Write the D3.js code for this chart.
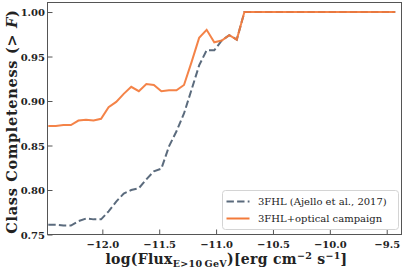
<!DOCTYPE html>
<html>
<head>
<meta charset="utf-8">
<script src="https://cdn.jsdelivr.net/npm/d3@7"></script>
<style>
  body { margin: 0; background: #fff; }
  svg text { font-family: "DejaVu Serif", "Liberation Serif", serif; }
</style>
</head>
<body>
<svg id="chart" width="407" height="271"></svg>
<script>
// log flux bin centres
var logFlux = [-12.475, -12.409, -12.342, -12.276, -12.210, -12.143, -12.077, -12.011, -11.945, -11.878,
               -11.812, -11.746, -11.679, -11.613, -11.547, -11.481, -11.414, -11.348, -11.282, -11.215,
               -11.149, -11.083, -11.016, -10.950, -10.884, -10.818, -10.751, -10.685, -10.619, -10.552,
               -10.486, -10.420, -10.354, -10.287, -10.221, -10.155, -10.088, -10.022, -9.956, -9.890,
               -9.823, -9.757, -9.691, -9.624, -9.558, -9.492, -9.425];

// 3FHL (Ajello et al., 2017)
var fhlValues = [0.761, 0.761, 0.760, 0.760, 0.765, 0.768, 0.767, 0.767, 0.776, 0.787,
                 0.796, 0.800, 0.802, 0.812, 0.821, 0.824, 0.849, 0.866, 0.886, 0.913,
                 0.940, 0.957, 0.957, 0.968, 0.974, 0.969, 1.000, 1.000, 1.000, 1.000,
                 1.000, 1.000, 1.000, 1.000, 1.000, 1.000, 1.000, 1.000, 1.000, 1.000,
                 1.000, 1.000, 1.000, 1.000, 1.000, 1.000, 1.000];

// 3FHL + optical campaign
var opticalValues = [0.872, 0.872, 0.873, 0.873, 0.878, 0.879, 0.878, 0.880, 0.893, 0.899,
                     0.908, 0.916, 0.911, 0.919, 0.918, 0.911, 0.912, 0.912, 0.918, 0.944,
                     0.971, 0.980, 0.966, 0.968, 0.974, 0.969, 1.000, 1.000, 1.000, 1.000,
                     1.000, 1.000, 1.000, 1.000, 1.000, 1.000, 1.000, 1.000, 1.000, 1.000,
                     1.000, 1.000, 1.000, 1.000, 1.000, 1.000, 1.000];

var xTicks = [-12.0, -11.5, -11.0, -10.5, -10.0, -9.5];
var yTicks = [0.75, 0.80, 0.85, 0.90, 0.95, 1.00];
var legendLabels = ["3FHL (Ajello et al., 2017)", "3FHL+optical campaign"];

var svg = d3.select("#chart");
var mLeft = 47.5, mRight = 401.5, mTop = 2.5, mBottom = 234.5;

var x = d3.scaleLinear().domain([-12.482, -9.370]).range([mLeft, mRight]);
var y = d3.scaleLinear().domain([0.75, 1.0107]).range([mBottom, mTop]);

var grayCol = "#5b6b7d", orangeCol = "#f37a3a", spineCol = "#555";

// axes (ticks point inward)
var xAxis = svg.append("g")
    .attr("transform", "translate(0," + mBottom + ")")
    .call(d3.axisBottom(x).tickValues(xTicks).tickSizeInner(-5).tickSizeOuter(0)
        .tickFormat(function(d) { return d3.format(".1f")(d).replace("-", "\u2212"); }));
xAxis.select(".domain").remove();
xAxis.selectAll("line").attr("stroke", spineCol);
xAxis.selectAll("text")
    .attr("y", 4).attr("dy", "0.9em")
    .attr("font-size", 10).attr("font-weight", "bold").attr("fill", "#222")
    .style("font-family", "DejaVu Serif");

var yAxis = svg.append("g")
    .attr("transform", "translate(" + mLeft + ",0)")
    .call(d3.axisLeft(y).tickValues(yTicks).tickSizeInner(-5).tickSizeOuter(0)
        .tickFormat(d3.format(".2f")));
yAxis.select(".domain").remove();
yAxis.selectAll("line").attr("stroke", spineCol);
yAxis.selectAll("text")
    .attr("x", -2.5).attr("dy", "0.35em")
    .attr("font-size", 10).attr("font-weight", "bold").attr("fill", "#222")
    .style("font-family", "DejaVu Serif");

// lines
var line = d3.line()
    .x(function(d) { return x(d[0]); })
    .y(function(d) { return y(d[1]); });

svg.append("path")
    .datum(d3.zip(logFlux, fhlValues))
    .attr("d", line)
    .attr("fill", "none")
    .attr("stroke", grayCol)
    .attr("stroke-width", 2)
    .attr("stroke-dasharray", "7.4,3.2");

svg.append("path")
    .datum(d3.zip(logFlux, opticalValues))
    .attr("d", line)
    .attr("fill", "none")
    .attr("stroke", orangeCol)
    .attr("stroke-opacity", 0.93)
    .attr("stroke-width", 2);

// frame
svg.append("rect")
    .attr("x", mLeft).attr("y", mTop)
    .attr("width", mRight - mLeft).attr("height", mBottom - mTop)
    .attr("fill", "none").attr("stroke", spineCol).attr("stroke-width", 1);

// legend
var leg = svg.append("g");
leg.append("rect")
    .attr("x", 222.5).attr("y", 190.5).attr("width", 176).attr("height", 39)
    .attr("rx", 3).attr("fill", "#fff").attr("fill-opacity", 0.85)
    .attr("stroke", "#d4d4d4").attr("stroke-width", 1);
var legCols = [grayCol, orangeCol];
var legDash = ["7.4,3.2", null];
legendLabels.forEach(function(lbl, i) {
    var yy = 201.5 + i * 17;
    leg.append("line")
        .attr("x1", 226.5).attr("x2", 249.5).attr("y1", yy).attr("y2", yy)
        .attr("stroke", legCols[i]).attr("stroke-width", 2)
        .attr("stroke-dasharray", legDash[i]);
    leg.append("text")
        .attr("x", 258).attr("y", yy + 3.5)
        .attr("font-size", 10).attr("fill", "#222")
        .text(lbl);
});

// axis labels
var xl = svg.append("text")
    .attr("x", (mLeft + mRight) / 2 + 2).attr("y", 264)
    .attr("text-anchor", "middle")
    .attr("font-size", 14).attr("letter-spacing", 0.3)
    .attr("font-weight", "bold").attr("fill", "#222");
xl.append("tspan").text("log(Flux");
xl.append("tspan").attr("font-size", 9.5).attr("dy", 3).text("E>10\u2009GeV");
xl.append("tspan").attr("dy", -3).text(")[erg cm");
xl.append("tspan").attr("font-size", 9.5).attr("dy", -5.5).text("\u22122");
xl.append("tspan").attr("dy", 5.5).text(" s");
xl.append("tspan").attr("font-size", 9.5).attr("dy", -5.5).text("\u22121");
xl.append("tspan").attr("dy", 5.5).text("]");

var yl = svg.append("text")
    .attr("transform", "translate(17," + ((mTop + mBottom) / 2 + 3) + ") rotate(-90)")
    .attr("text-anchor", "middle")
    .attr("font-size", 14.5).attr("letter-spacing", 0.7)
    .attr("font-weight", "bold").attr("fill", "#222");
yl.append("tspan").text("Class Completeness (> ");
yl.append("tspan").attr("font-style", "italic").text("F");
yl.append("tspan").text(")");
</script>
</body>
</html>
